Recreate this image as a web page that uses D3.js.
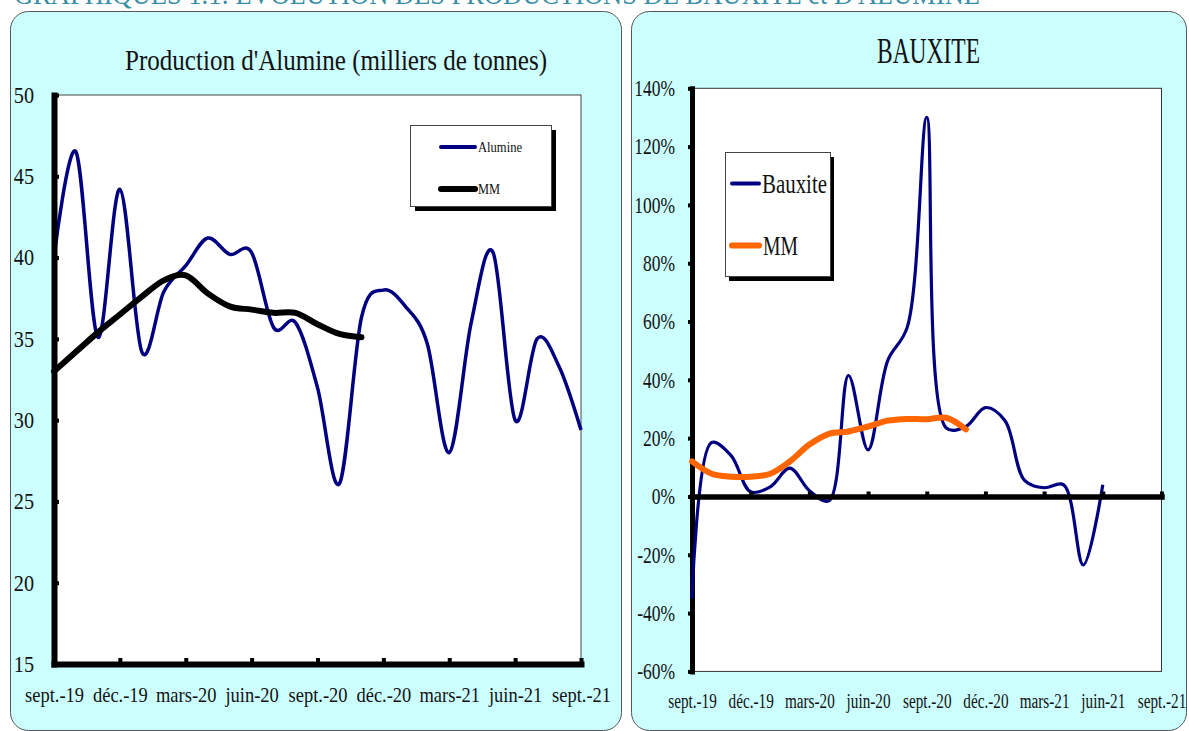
<!DOCTYPE html>
<html><head><meta charset="utf-8">
<script src="https://cdn.jsdelivr.net/npm/d3@7"></script>
<style>
body{margin:0;background:#fff;}
svg{display:block;font-family:"Liberation Serif",serif;}
</style>
</head><body>
<svg id="c" width="1189" height="731"></svg>
<script>
// ---------- DATA ----------
const months = ["sept.-19","oct.-19","nov.-19","déc.-19","janv.-20","févr.-20","mars-20","avr.-20","mai-20","juin-20","juil.-20","août-20",
  "sept.-20","oct.-20","nov.-20","déc.-20","janv.-21","févr.-21","mars-21","avr.-21","mai-21","juin-21","juil.-21","août-21","sept.-21"];
const quarterTicks = ["sept.-19","déc.-19","mars-20","juin-20","sept.-20","déc.-20","mars-21","juin-21","sept.-21"];

// Production d'Alumine (milliers de tonnes), monthly
const alumine = [40.0,46.5,35.1,44.2,34.2,37.9,39.5,41.2,40.2,40.3,35.7,36.0,32.0,26.1,36.3,38.0,37.0,34.7,28.0,36.0,40.3,30.0,35.0,33.3,29.4];
const alumineMM = [33.0,34.2,35.4,36.5,37.6,38.6,38.9,37.8,37.0,36.8,36.6,36.6,35.9,35.3,35.1];
const alumineTicks = [15,20,25,30,35,40,45,50];

// BAUXITE (variation), monthly
const bauxite = [-0.35,0.185,0.14,0.016,0.033,0.097,0.02,-0.015,0.415,0.16,0.465,0.58,1.30,0.235,0.24,0.305,0.26,0.055,0.03,0.04,-0.235,0.04];
const bauxiteMM = [0.12,0.078,0.068,0.068,0.078,0.12,0.178,0.215,0.223,0.24,0.26,0.266,0.265,0.27,0.23];
const bauxiteTicks = [-0.6,-0.4,-0.2,0,0.2,0.4,0.6,0.8,1.0,1.2,1.4];

const navy = "#000080", orange = "#ff6600";

// ---------- HELPERS ----------
const svg = d3.select("#c");
function condense(sel, f){
  sel.each(function(){
    const L = this.getComputedTextLength();
    this.setAttribute("textLength", L*f);
    this.setAttribute("lengthAdjust","spacingAndGlyphs");
  });
}
function fitText(sel, w){
  sel.attr("textLength", w).attr("lengthAdjust","spacingAndGlyphs");
}

// top (cut) heading
svg.append("text").attr("x",14).attr("y",4).attr("font-size",30).attr("fill","#3a8fa6")
  .text("GRAPHIQUES 1.1: EVOLUTION DES PRODUCTIONS DE BAUXITE et D'ALUMINE").call(fitText,966);

// panels
svg.append("rect").attr("x",10.5).attr("y",11.5).attr("width",611).attr("height",719)
  .attr("rx",18).attr("fill","#ccffff").attr("stroke","#555").attr("stroke-width",1);
svg.append("rect").attr("x",631.5).attr("y",11.5).attr("width",555).attr("height",719)
  .attr("rx",18).attr("fill","#ccffff").attr("stroke","#555").attr("stroke-width",1);

// ================= LEFT CHART =================
const xL = d3.scalePoint().domain(months).range([54,581]);
const yL = d3.scaleLinear().domain([15,50]).range([664,95]);

svg.append("rect").attr("x",54).attr("y",95).attr("width",527).attr("height",569)
  .attr("fill","#fff").attr("stroke","#444").attr("stroke-width",1);

svg.append("text").attr("x",336).attr("y",70).attr("text-anchor","middle").attr("font-size",30).attr("fill","#111")
  .text("Production d'Alumine (milliers de tonnes)").call(fitText,422);

const lineL = d3.line().x((d,i)=>xL(months[i])).y(d=>yL(d)).curve(d3.curveCardinal.tension(0));
svg.append("path").datum(alumine).attr("d",lineL).attr("fill","none").attr("stroke",navy).attr("stroke-width",3.5);
svg.append("path").datum(alumineMM).attr("d",lineL).attr("fill","none").attr("stroke","#000").attr("stroke-width",6).attr("stroke-linecap","round");

const yAxL = svg.append("g").attr("transform","translate(54,0)")
  .call(d3.axisLeft(yL).tickValues(alumineTicks).tickSizeInner(-5).tickSizeOuter(0).tickPadding(20));
const xAxL = svg.append("g").attr("transform","translate(0,664)")
  .call(d3.axisBottom(xL).tickValues(quarterTicks).tickSizeInner(-6).tickSizeOuter(0).tickPadding(22));
[yAxL,xAxL].forEach(g=>{
  g.select(".domain").attr("stroke","#000").attr("stroke-width",6).attr("stroke-linecap","square");
  g.selectAll(".tick line").attr("stroke","#000").attr("stroke-width",4);
  g.selectAll("text").attr("fill","#111").attr("font-family","Liberation Serif");
});
yAxL.selectAll("text").attr("font-size",23).call(condense,0.88);
xAxL.selectAll("text").attr("font-size",22).call(condense,0.84);

// legend left
svg.append("rect").attr("x",415).attr("y",130).attr("width",141).attr("height",81).attr("fill","#000");
svg.append("rect").attr("x",410.5).attr("y",125.5).attr("width",141).attr("height",81).attr("fill","#fff").attr("stroke","#444");
svg.append("line").attr("x1",441).attr("x2",475).attr("y1",147).attr("y2",147).attr("stroke",navy).attr("stroke-width",4).attr("stroke-linecap","round");
svg.append("line").attr("x1",441).attr("x2",475).attr("y1",189).attr("y2",189).attr("stroke","#000").attr("stroke-width",6).attr("stroke-linecap","round");
svg.append("text").attr("x",478).attr("y",152).attr("font-size",14).attr("fill","#111").text("Alumine").call(fitText,44);
svg.append("text").attr("x",478).attr("y",194).attr("font-size",14).attr("fill","#111").text("MM").call(fitText,22);

// ================= RIGHT CHART =================
const xR = d3.scalePoint().domain(months).range([692,1161.5]);
const yR = d3.scaleLinear().domain([-0.6,1.4]).range([671.4,88.3]);

svg.append("rect").attr("x",692).attr("y",88.3).attr("width",469.5).attr("height",583.1)
  .attr("fill","#fff").attr("stroke","#333").attr("stroke-width",1);

svg.append("text").attr("x",928.5).attr("y",63).attr("text-anchor","middle").attr("font-size",36).attr("fill","#111")
  .text("BAUXITE").call(fitText,103);

const lineR = d3.line().x((d,i)=>xR(months[i])).y(d=>yR(d)).curve(d3.curveCatmullRom.alpha(0.5));

const pct = v => Math.round(v*100)+"%";
const yAxR = svg.append("g").attr("transform","translate(692,0)")
  .call(d3.axisLeft(yR).tickValues(bauxiteTicks).tickFormat(pct).tickSizeInner(4).tickSizeOuter(0).tickPadding(13));
yAxR.select(".domain").attr("stroke","#000").attr("stroke-width",5).attr("stroke-linecap","square");
yAxR.selectAll(".tick line").attr("stroke","#000").attr("stroke-width",4);
yAxR.selectAll("text").attr("font-size",23).attr("fill","#111").attr("font-family","Liberation Serif").call(condense,0.76);

svg.append("path").datum(bauxite).attr("d",lineR).attr("fill","none").attr("stroke",navy).attr("stroke-width",3.2);

const zeroAx = svg.append("g").attr("transform",`translate(0,${yR(0)})`)
  .call(d3.axisBottom(xR).tickValues(quarterTicks).tickFormat("").tickSizeInner(-5).tickSizeOuter(0));
zeroAx.select(".domain").attr("stroke","#000").attr("stroke-width",5.5).attr("stroke-linecap","square");
zeroAx.selectAll(".tick line").attr("stroke","#000").attr("stroke-width",4);

svg.append("path").datum(bauxiteMM).attr("d",lineR).attr("fill","none").attr("stroke",orange).attr("stroke-width",6).attr("stroke-linecap","round");

const xLabR = svg.append("g").attr("transform","translate(0,671.4)")
  .call(d3.axisBottom(xR).tickValues(quarterTicks).tickSize(0).tickPadding(22));
xLabR.select(".domain").remove();
xLabR.selectAll("text").attr("font-size",20).attr("fill","#111").attr("font-family","Liberation Serif").call(condense,0.76);

// legend right
svg.append("rect").attr("x",729).attr("y",157).attr("width",105).attr("height",124).attr("fill","#000");
svg.append("rect").attr("x",725.5).attr("y",152.5).attr("width",105).attr("height",124).attr("fill","#fff").attr("stroke","#444");
svg.append("line").attr("x1",732).attr("x2",759).attr("y1",183.5).attr("y2",183.5).attr("stroke",navy).attr("stroke-width",4).attr("stroke-linecap","round");
svg.append("line").attr("x1",732).attr("x2",759).attr("y1",245.5).attr("y2",245.5).attr("stroke",orange).attr("stroke-width",6).attr("stroke-linecap","round");
svg.append("text").attr("x",762).attr("y",193).attr("font-size",28).attr("fill","#111").text("Bauxite").call(fitText,65);
svg.append("text").attr("x",763).attr("y",255).attr("font-size",28).attr("fill","#111").text("MM").call(fitText,35);
</script>
</body></html>
